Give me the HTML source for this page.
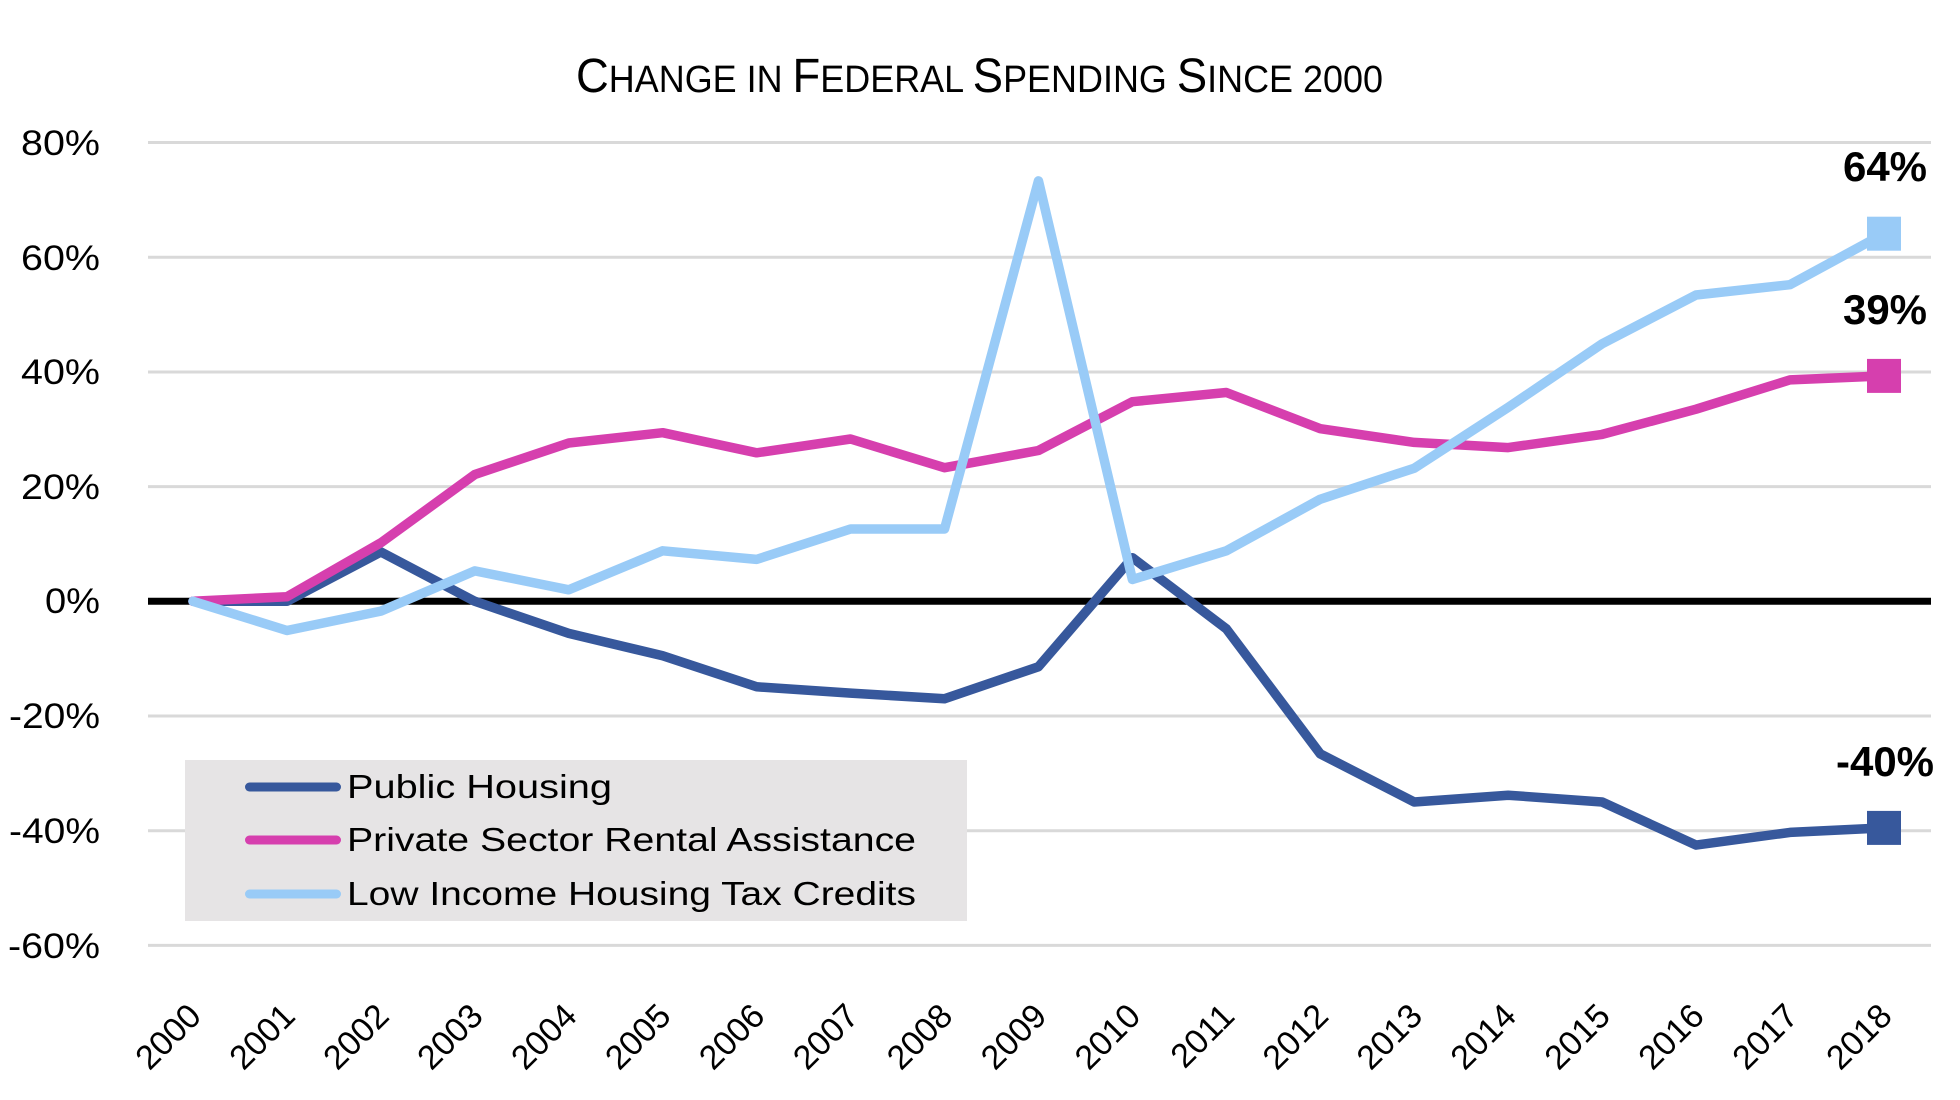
<!DOCTYPE html>
<html>
<head>
<meta charset="utf-8">
<style>
  html, body { margin: 0; padding: 0; background: #ffffff; overflow: hidden; }
  svg { display: block; }
  text { font-family: "Liberation Sans", "DejaVu Sans", sans-serif; fill: #000; }
</style>
</head>
<body>
<svg width="1960" height="1100" viewBox="0 0 1960 1100" xmlns="http://www.w3.org/2000/svg">
  <rect x="0" y="0" width="1960" height="1100" fill="#ffffff"/>

  <!-- Title -->
  <text x="576" y="92" textLength="807" lengthAdjust="spacingAndGlyphs" font-family="'Liberation Sans Narrow','Liberation Sans',sans-serif"><tspan font-size="48">C</tspan><tspan font-size="38">HANGE IN </tspan><tspan font-size="48">F</tspan><tspan font-size="38">EDERAL </tspan><tspan font-size="48">S</tspan><tspan font-size="38">PENDING </tspan><tspan font-size="48">S</tspan><tspan font-size="38">INCE 2000</tspan></text>

  <!-- Gridlines -->
  <g stroke="#d9d9d9" stroke-width="3">
    <line x1="148" y1="142.5" x2="1931" y2="142.5"/>
    <line x1="148" y1="257.2" x2="1931" y2="257.2"/>
    <line x1="148" y1="372" x2="1931" y2="372"/>
    <line x1="148" y1="486.6" x2="1931" y2="486.6"/>
    <line x1="148" y1="716" x2="1931" y2="716"/>
    <line x1="148" y1="830.7" x2="1931" y2="830.7"/>
    <line x1="148" y1="945.4" x2="1931" y2="945.4"/>
  </g>
  <!-- Zero line -->
  <line x1="148" y1="601.3" x2="1931" y2="601.3" stroke="#000" stroke-width="7"/>

  <!-- Y axis labels -->
  <g font-size="35" text-anchor="start">
    <text x="21" y="155" textLength="79" lengthAdjust="spacingAndGlyphs">80%</text>
    <text x="21" y="270" textLength="79" lengthAdjust="spacingAndGlyphs">60%</text>
    <text x="21" y="384" textLength="79" lengthAdjust="spacingAndGlyphs">40%</text>
    <text x="21" y="499" textLength="79" lengthAdjust="spacingAndGlyphs">20%</text>
    <text x="45" y="613" textLength="55" lengthAdjust="spacingAndGlyphs">0%</text>
    <text x="9" y="728" textLength="91" lengthAdjust="spacingAndGlyphs">-20%</text>
    <text x="9" y="843" textLength="91" lengthAdjust="spacingAndGlyphs">-40%</text>
    <text x="8" y="958" textLength="92" lengthAdjust="spacingAndGlyphs">-60%</text>
  </g>

  <!-- Legend -->
  <rect x="185" y="760" width="782" height="161" fill="#e6e4e5"/>
  <g stroke-width="9" stroke-linecap="round" fill="none">
    <line x1="249.5" y1="787" x2="336.5" y2="787" stroke="#37589c"/>
    <line x1="249.5" y1="840" x2="336.5" y2="840" stroke="#d63fae"/>
    <line x1="249.5" y1="894" x2="336.5" y2="894" stroke="#99cbf7"/>
  </g>
  <g font-size="33">
    <text x="347" y="798" textLength="265" lengthAdjust="spacingAndGlyphs">Public Housing</text>
    <text x="347" y="851" textLength="569" lengthAdjust="spacingAndGlyphs">Private Sector Rental Assistance</text>
    <text x="347" y="905" textLength="569" lengthAdjust="spacingAndGlyphs">Low Income Housing Tax Credits</text>
  </g>

  <!-- Series -->
  <g fill="none" stroke-width="9.5" stroke-linejoin="round" stroke-linecap="round">
    <polyline stroke="#37589c" points="193,601.3 286.94,601.3 380.88,552.0 474.82,601.3 568.76,633.4 662.7,655.8 756.64,686.8 850.58,693.1 944.52,698.8 1038.46,666.7 1132.4,557.7 1226.34,628.8 1320.28,753.9 1414.22,802.0 1508.16,795.2 1602.1,802.0 1696.04,845.1 1789.98,832.4 1883.92,827.9"/>
    <polyline stroke="#d63fae" points="193,601.3 286.94,596.7 380.88,542.8 474.82,474.5 568.76,443.0 662.7,432.7 756.64,452.8 850.58,439.0 944.52,467.7 1038.46,450.5 1132.4,401.7 1226.34,392.5 1320.28,428.7 1414.22,442.4 1508.16,447.6 1602.1,434.4 1696.04,409.2 1789.98,379.9 1883.92,375.9"/>
    <polyline stroke="#99cbf7" points="193,601.3 286.94,630.5 380.88,611.1 474.82,570.9 568.76,589.8 662.7,550.8 756.64,559.4 850.58,529.0 944.52,529.0 1038.46,180.9 1132.4,579.5 1226.34,550.8 1320.28,499.2 1414.22,468.2 1508.16,407.4 1602.1,343.8 1696.04,295.0 1789.98,284.7 1883.92,233.7"/>
  </g>

  <!-- End markers -->
  <rect x="1867" y="810.9" width="34" height="34" fill="#37589c"/>
  <rect x="1867" y="358.9" width="34" height="34" fill="#d63fae"/>
  <rect x="1867" y="216.7" width="34" height="34" fill="#99cbf7"/>

  <!-- End labels -->
  <g font-size="42" font-weight="bold" text-anchor="middle">
    <text x="1885" y="181">64%</text>
    <text x="1885" y="324">39%</text>
    <text x="1885" y="776">-40%</text>
  </g>

  <!-- X axis labels -->
  <g font-size="34" text-anchor="end">
    <text transform="translate(203,1018) rotate(-45)">2000</text>
    <text transform="translate(296.94,1018) rotate(-45)">2001</text>
    <text transform="translate(390.88,1018) rotate(-45)">2002</text>
    <text transform="translate(484.82,1018) rotate(-45)">2003</text>
    <text transform="translate(578.76,1018) rotate(-45)">2004</text>
    <text transform="translate(672.7,1018) rotate(-45)">2005</text>
    <text transform="translate(766.64,1018) rotate(-45)">2006</text>
    <text transform="translate(860.58,1018) rotate(-45)">2007</text>
    <text transform="translate(954.52,1018) rotate(-45)">2008</text>
    <text transform="translate(1048.46,1018) rotate(-45)">2009</text>
    <text transform="translate(1142.4,1018) rotate(-45)">2010</text>
    <text transform="translate(1236.34,1018) rotate(-45)">2011</text>
    <text transform="translate(1330.28,1018) rotate(-45)">2012</text>
    <text transform="translate(1424.22,1018) rotate(-45)">2013</text>
    <text transform="translate(1518.16,1018) rotate(-45)">2014</text>
    <text transform="translate(1612.1,1018) rotate(-45)">2015</text>
    <text transform="translate(1706.04,1018) rotate(-45)">2016</text>
    <text transform="translate(1799.98,1018) rotate(-45)">2017</text>
    <text transform="translate(1893.92,1018) rotate(-45)">2018</text>
  </g>
</svg>
</body>
</html>
